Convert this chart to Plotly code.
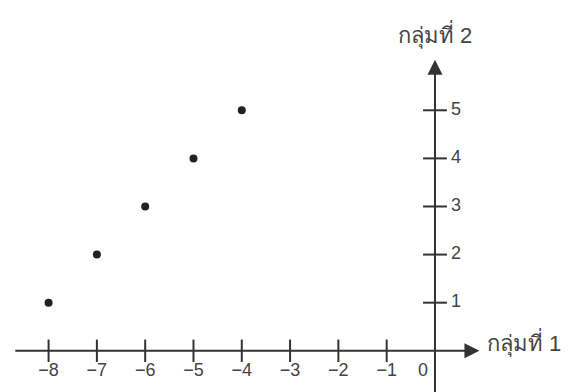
import plotly.graph_objects as go

# Data
group1 = [-8, -7, -6, -5, -4]   # กลุ่มที่ 1 (x)
group2 = [1, 2, 3, 4, 5]        # กลุ่มที่ 2 (y)
x_ticks = [-8, -7, -6, -5, -4, -3, -2, -1]
x_tick_labels = ["−8", "−7", "−6", "−5", "−4", "−3", "−2", "−1"]
y_ticks = [1, 2, 3, 4, 5]
y_tick_labels = ["1", "2", "3", "4", "5"]
x_title = "กลุ่มที่ 1"
y_title = "กลุ่มที่ 2"

AX = "#333333"
TXT = "#444444"
FONT = "Liberation Sans, Arial, sans-serif"

fig = go.Figure()

# x tick marks
fig.add_trace(go.Scatter(
    x=x_ticks, y=[0] * len(x_ticks), mode="markers",
    marker=dict(symbol="line-ns", size=16, line=dict(width=2, color=AX)),
    hoverinfo="skip", showlegend=False))
# y tick marks
fig.add_trace(go.Scatter(
    x=[0] * len(y_ticks), y=y_ticks, mode="markers",
    marker=dict(symbol="line-ew", size=17, line=dict(width=2, color=AX)),
    hoverinfo="skip", showlegend=False))

# x tick labels
fig.add_trace(go.Scatter(
    x=x_ticks, y=[-0.43] * len(x_ticks), mode="text", text=x_tick_labels,
    textfont=dict(size=18, color=TXT, family=FONT),
    hoverinfo="skip", showlegend=False))
# zero label
fig.add_trace(go.Scatter(
    x=[-0.25], y=[-0.43], mode="text", text=["0"],
    textfont=dict(size=18, color=TXT, family=FONT),
    hoverinfo="skip", showlegend=False))
# y tick labels
fig.add_trace(go.Scatter(
    x=[0.33] * len(y_ticks), y=y_ticks, mode="text", text=y_tick_labels,
    textposition="middle right",
    textfont=dict(size=18, color=TXT, family=FONT),
    hoverinfo="skip", showlegend=False))

# data points
fig.add_trace(go.Scatter(
    x=group1, y=group2, mode="markers",
    marker=dict(size=8, color="#222222"),
    showlegend=False))

# axes with arrows
fig.add_annotation(x=0.92, y=0, ax=-8.72, ay=0, xref="x", yref="y",
                   axref="x", ayref="y", showarrow=True, arrowhead=2,
                   arrowsize=1.5, arrowwidth=2, arrowcolor=AX, text="")
fig.add_annotation(x=0, y=6.05, ax=0, ay=-0.9, xref="x", yref="y",
                   axref="x", ayref="y", showarrow=True, arrowhead=2,
                   arrowsize=1.5, arrowwidth=2, arrowcolor=AX, text="")

# axis titles
fig.add_annotation(x=1.03, y=0.18, xref="x", yref="y", text=x_title,
                   showarrow=False, xanchor="left", yanchor="middle",
                   font=dict(size=22, color=TXT, family=FONT))
fig.add_annotation(x=0, y=6.58, xref="x", yref="y", text=y_title,
                   showarrow=False, xanchor="center", yanchor="middle",
                   font=dict(size=22, color=TXT, family=FONT))

fig.update_layout(
    width=575, height=392,
    margin=dict(l=0, r=0, t=0, b=0),
    paper_bgcolor="white", plot_bgcolor="white",
    xaxis=dict(range=[-9.006, 2.899], visible=False, fixedrange=True),
    yaxis=dict(range=[-0.857, 7.293], visible=False, fixedrange=True),
    showlegend=False,
)

fig.write_html("out.html", config={"displayModeBar": False},
               post_script="document.body.style.margin='0';")
